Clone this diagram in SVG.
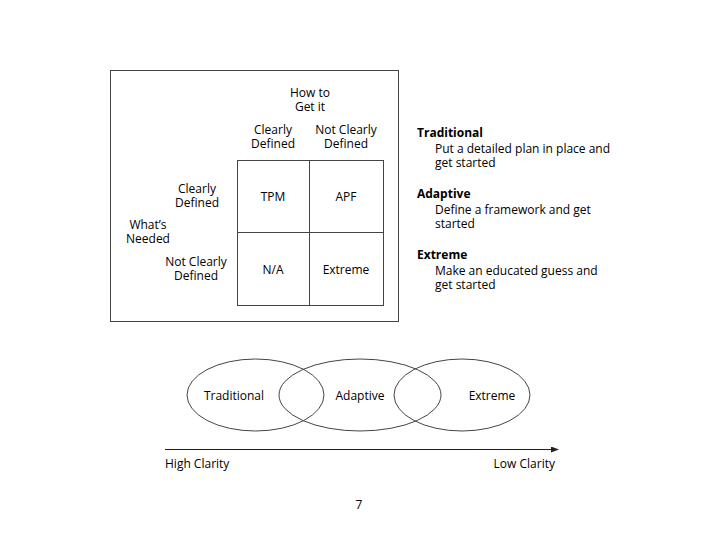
<svg xmlns="http://www.w3.org/2000/svg" width="720" height="540" viewBox="0 0 720 540">
<style>
text{font-family:"Open Sans","DejaVu Sans",sans-serif;font-size:12px;fill:#000}
.c{text-anchor:middle}
.b{font-weight:bold}
.ln{fill:none;stroke:#444;stroke-width:1}
</style>
<defs>
<marker id="ah" markerWidth="8" markerHeight="6" refX="7" refY="3" orient="auto" markerUnits="userSpaceOnUse">
<path d="M0,0 L8,3 L0,6 Z" fill="#222"/>
</marker>
</defs>
<rect width="720" height="540" fill="#fff"/>
<g id="frame"><rect class="ln" x="110.5" y="70.5" width="288" height="251"/></g>
<g id="headers">
<text class="c" x="310" y="97">How to<tspan x="310" dy="14">Get it</tspan></text>
<text class="c" x="273" y="134">Clearly<tspan x="273" dy="14">Defined</tspan></text>
<text class="c" x="346" y="134">Not Clearly<tspan x="346" dy="14">Defined</tspan></text>
<text class="c" x="197" y="193">Clearly<tspan x="197" dy="14">Defined</tspan></text>
<text class="c" x="148" y="229">What’s<tspan x="148" dy="14">Needed</tspan></text>
<text class="c" x="196" y="266">Not Clearly<tspan x="196" dy="14">Defined</tspan></text>
</g>
<g id="grid">
<rect class="ln" x="237.5" y="160.5" width="146" height="145"/>
<line class="ln" x1="309.5" y1="160.5" x2="309.5" y2="305.5"/>
<line class="ln" x1="237.5" y1="232.5" x2="383.5" y2="232.5"/>
</g>
<g id="cell-tpm"><text class="c" x="273" y="201">TPM</text></g>
<g id="cell-apf"><text class="c" x="346" y="201">APF</text></g>
<g id="cell-na"><text class="c" x="273" y="274">N/A</text></g>
<g id="cell-extreme"><text class="c" x="346" y="274">Extreme</text></g>
<g id="legend">
<text x="417" y="137"><tspan class="b">Traditional</tspan><tspan x="435" dy="16">Put a detailed plan in place and</tspan><tspan x="435" dy="14">get started</tspan></text>
<text x="417" y="198"><tspan class="b">Adaptive</tspan><tspan x="435" dy="16">Define a framework and get</tspan><tspan x="435" dy="14">started</tspan></text>
<text x="417" y="259"><tspan class="b">Extreme</tspan><tspan x="435" dy="16">Make an educated guess and</tspan><tspan x="435" dy="14">get started</tspan></text>
</g>
<g id="ellipse-traditional"><ellipse class="ln" cx="255.5" cy="395" rx="68.5" ry="36"/><text class="c" x="234" y="400">Traditional</text></g>
<g id="ellipse-adaptive"><ellipse class="ln" cx="360" cy="395" rx="81" ry="36"/><text class="c" x="360" y="400">Adaptive</text></g>
<g id="ellipse-extreme"><ellipse class="ln" cx="462" cy="395" rx="68" ry="36"/><text class="c" x="492" y="400">Extreme</text></g>
<g id="connectors">
<line x1="165" y1="449.5" x2="558" y2="449.5" stroke="#222" stroke-width="1" marker-end="url(#ah)"/>
</g>
<g id="axis-labels">
<text x="165" y="468">High Clarity</text>
<text x="555" y="468" text-anchor="end">Low Clarity</text>
</g>
<text class="c" x="359" y="509">7</text>
</svg>
